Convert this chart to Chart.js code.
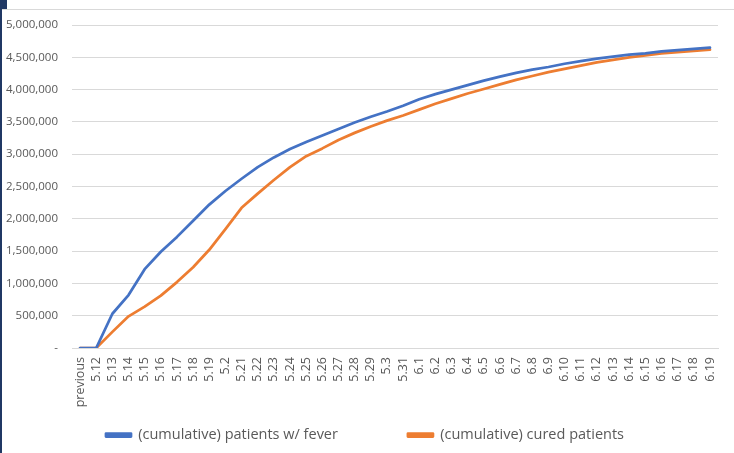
<!DOCTYPE html>
<html>
<head>
<meta charset="utf-8">
<script src="https://cdn.jsdelivr.net/npm/chart.js@4.4.0/dist/chart.umd.min.js"></script>
<style>
  html, body { margin: 0; padding: 0; background: #fff; }
  #wrap { position: relative; width: 734px; height: 453px; overflow: hidden; }
  #chart { position: absolute; left: 0; top: 0; }
  .navy-line { position: absolute; left: 0; top: 0; width: 2px; height: 453px; background: #203864; }
  .navy-block { position: absolute; left: 0; top: 0; width: 7px; height: 9px; background: #203864; }
  .card-top { position: absolute; left: 2px; top: 9px; width: 732px; height: 1px; background: #d9d9d9; }
</style>
</head>
<body>
<div id="wrap">
  <canvas id="chart" width="734" height="453"></canvas>
  <div class="navy-line"></div>
  <div class="navy-block"></div>
  <div class="card-top"></div>
</div>
<script>
const dates = [
  "previous", "5.12", "5.13", "5.14", "5.15", "5.16", "5.17", "5.18", "5.19", "5.2",
  "5.21", "5.22", "5.23", "5.24", "5.25", "5.26", "5.27", "5.28", "5.29", "5.3",
  "5.31", "6.1", "6.2", "6.3", "6.4", "6.5", "6.6", "6.7", "6.8", "6.9",
  "6.10", "6.11", "6.12", "6.13", "6.14", "6.15", "6.16", "6.17", "6.18", "6.19"
];

const feverPatients = [
  0, 0, 530000, 820000, 1220000, 1490000, 1720000, 1970000, 2220000, 2430000,
  2620000, 2800000, 2950000, 3080000, 3190000, 3290000, 3390000, 3490000, 3580000, 3660000,
  3750000, 3850000, 3930000, 4000000, 4070000, 4140000, 4200000, 4260000, 4310000, 4350000,
  4400000, 4440000, 4480000, 4510000, 4540000, 4560000, 4590000, 4610000, 4630000, 4650000
];

const curedPatients = [
  0, 0, 250000, 490000, 640000, 810000, 1020000, 1250000, 1520000, 1840000,
  2170000, 2390000, 2600000, 2800000, 2970000, 3090000, 3220000, 3330000, 3430000, 3520000,
  3600000, 3690000, 3780000, 3860000, 3940000, 4010000, 4080000, 4150000, 4210000, 4270000,
  4320000, 4370000, 4420000, 4460000, 4500000, 4530000, 4560000, 4580000, 4600000, 4620000
];

const yTicks = { min: 0, max: 5000000, step: 500000 };

const seriesNames = ["(cumulative) patients w/ fever", "(cumulative) cured patients"];

// --------- Chart ---------

// the legend padding sets both the gap between the two items and the space above them
const legendGap = 70;
const legendFontSize = 14.5;

// keeps the rotated date labels from being clipped by the (short) x axis box
const tickLabelRoom = {
  id: "tickLabelRoom",
  afterLayout(chart) {
    const x = chart.scales.x;
    x.bottom = x.top + 75;
  }
};

const ctx = document.getElementById("chart").getContext("2d");

new Chart(ctx, {
  type: "line",
  data: {
    labels: dates,
    datasets: [
      {
        label: seriesNames[0],
        data: feverPatients,
        borderColor: "#4472C4",
        backgroundColor: "#4472C4",
        borderWidth: 2.75,
        pointRadius: 0,
        tension: 0,
        borderJoinStyle: "round",
        borderCapStyle: "round"
      },
      {
        label: seriesNames[1],
        data: curedPatients,
        borderColor: "#ED7D31",
        backgroundColor: "#ED7D31",
        borderWidth: 2.75,
        pointRadius: 0,
        tension: 0,
        borderJoinStyle: "round",
        borderCapStyle: "round"
      }
    ]
  },
  plugins: [tickLabelRoom],
  options: {
    responsive: false,
    animation: false,
    layout: { padding: { left: 0, right: 4, top: 25, bottom: 0.75 } },
    plugins: {
      tooltip: { enabled: false },
      legend: {
        position: "bottom",
        labels: {
          boxWidth: 25,
          boxHeight: 3,
          padding: legendGap,
          color: "#595959",
          font: { family: "'Open Sans'", size: legendFontSize }
        }
      }
    },
    scales: {
      x: {
        offset: true,
        grid: { display: false, drawTicks: false },
        border: { display: true, color: "#d9d9d9", width: 1 },
        ticks: {
          autoSkip: false,
          minRotation: 90,
          maxRotation: 90,
          padding: 9,
          color: "#595959",
          font: { family: "'Open Sans'", size: 12.5 }
        },
        afterFit: (scale) => { scale.height = 427.75 - legendGap - 348; }
      },
      y: {
        min: yTicks.min,
        max: yTicks.max,
        grid: { color: "#d9d9d9", lineWidth: 1, drawTicks: false },
        border: { display: false },
        ticks: {
          stepSize: yTicks.step,
          padding: 14,
          color: "#595959",
          font: { family: "'Open Sans'", size: 11.5 },
          callback: (v) => v === 0 ? "-" : v.toLocaleString("en-US")
        },
        afterFit: (scale) => { scale.width = 72; }
      }
    }
  }
});
</script>
</body>
</html>
